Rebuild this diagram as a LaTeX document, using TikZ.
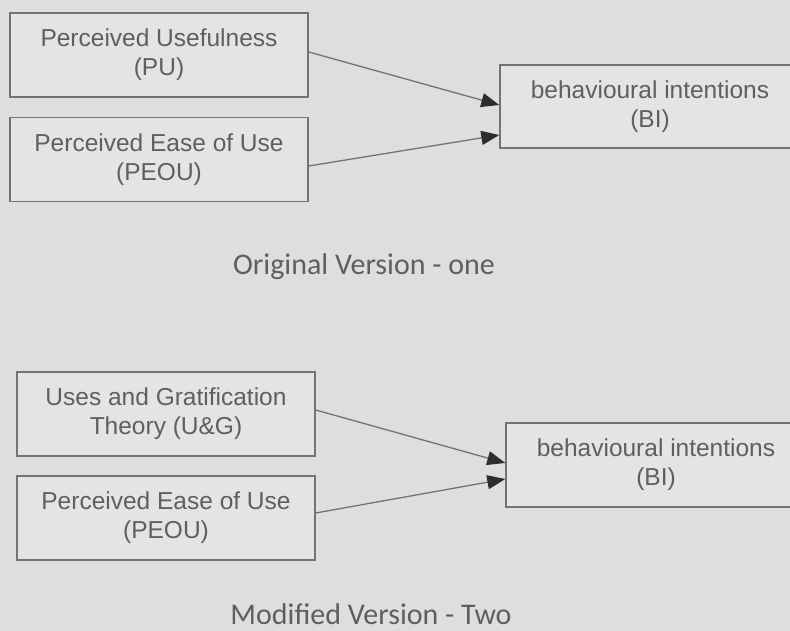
\documentclass[tikz,border=0pt]{standalone}
\usepackage{fontspec}
\setmainfont{Liberation Sans}
\newfontfamily\capfont{Carlito}
\usepackage{xcolor}
\usetikzlibrary{positioning,arrows.meta}

\definecolor{paper}{RGB}{222,222,222}
\definecolor{boxfill}{RGB}{228,228,228}
\definecolor{ink}{RGB}{95,95,95}
\definecolor{edge}{RGB}{115,115,115}
\definecolor{tip}{RGB}{45,45,45}

\begin{document}
\begin{tikzpicture}[
        x=1pt, y=-1pt,
        every node/.style={align=center, text=ink},
        factor/.style={rectangle, draw=edge, line width=1.4pt, fill=boxfill,
            minimum width=298pt, minimum height=84pt,
            font=\fontsize{24.5}{29}\selectfont},
        caption/.style={anchor=base, font=\capfont\fontsize{30}{34}\selectfont},
        link/.style={draw=edge, line width=1.3pt, -{Triangle[length=18pt,width=14pt,color=tip,fill=tip]}}
    ]
        \fill[paper] (0,0) rectangle (790,631);
        \clip (0,0) rectangle (790,631);

        % original version
        \node[factor] (pu) at (159,55) {Perceived Usefulness\\(PU)};
        \node[factor] (peou) at (159,159.5) {Perceived Ease of Use\\(PEOU)};
        \node[factor, minimum width=300pt, minimum height=83pt] (bi) at (650,106.5) {behavioural intentions\\(BI)};
        \node[caption] (orig) at (364,275) {Original Version - one};

        \draw[link] ([yshift=3pt]pu.east) -- ([yshift=1.5pt]bi.west);
        \draw[link] ([yshift=-6.5pt]peou.east) -- ([yshift=-28.5pt]bi.west);

        % modified version
        \node[factor] (ug) at (166,414) {Uses and Gratification\\Theory (U\&G)};
        \node[factor] (peoutwo) at (166,518) {Perceived Ease of Use\\(PEOU)};
        \node[factor, minimum width=300pt, minimum height=84pt] (bitwo) at (656,465) {behavioural intentions\\(BI)};
        \node[caption] (modif) at (371,624) {Modified Version - Two};

        \draw[link] ([yshift=4pt]ug.east) -- ([yshift=2pt]bitwo.west);
        \draw[link] ([yshift=5pt]peoutwo.east) -- ([yshift=-14pt]bitwo.west);
    \end{tikzpicture}
\end{document}
